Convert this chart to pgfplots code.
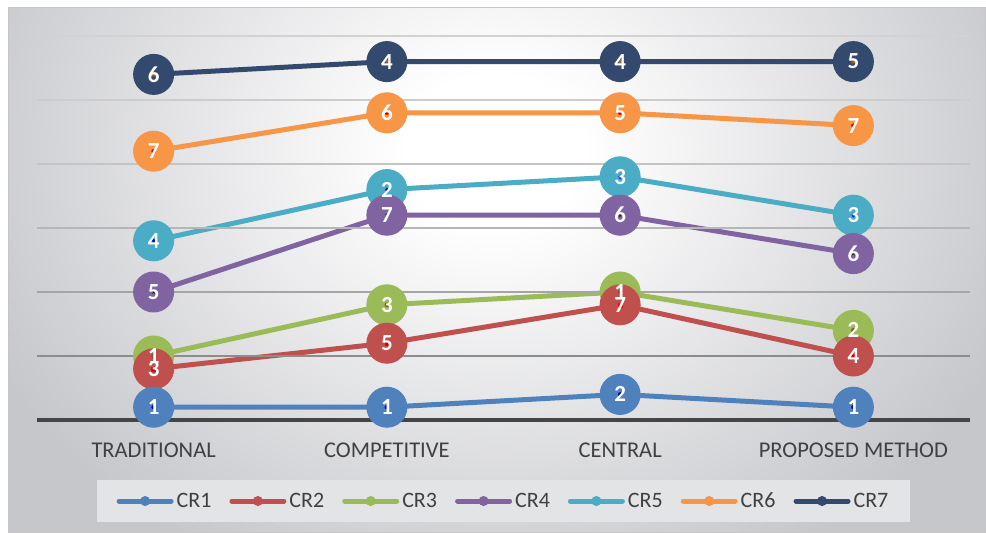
\documentclass[border=0pt]{standalone}
\usepackage{fontspec}
\setmainfont{Carlito}
\usepackage{pgfplots}
\pgfplotsset{compat=1.18}
\usepackage{pgfplotstable}

\definecolor{cA}{HTML}{4F81BD}
\definecolor{cB}{HTML}{C0504D}
\definecolor{cC}{HTML}{9BBB59}
\definecolor{cD}{HTML}{8064A2}
\definecolor{cE}{HTML}{4BACC6}
\definecolor{cF}{HTML}{F79646}
\definecolor{cG}{HTML}{34496E}
\definecolor{bgedge}{HTML}{C6C7CB}
\definecolor{labgray}{HTML}{404040}
\definecolor{axisgray}{HTML}{454545}
\definecolor{legfill}{HTML}{E3E4E6}
\definecolor{gA}{HTML}{8C8C8C}
\definecolor{gB}{HTML}{A5A5A5}
\definecolor{gC}{HTML}{B6B6B6}
\definecolor{gD}{HTML}{C4C4C4}
\definecolor{gE}{HTML}{CCCCCC}
\definecolor{gF}{HTML}{D2D2D2}

% tikz maps +-25bp of a shading onto the path's bounding box
\pgfdeclareradialshading{chartbg}{\pgfpoint{0bp}{0bp}}{%
  color(0bp)=(white); color(4bp)=(white); color(25bp)=(bgedge); color(50bp)=(bgedge)}

\pgfdeclarelayer{chartback}
\pgfsetlayers{chartback,main}

% rank of each criterion per method (plotted stacked, like the original)
\pgfplotstableread{
x cr1 cr2 cr3 cr4 cr5 cr6 cr7
0 1   3   1   5   4   7   6
1 1   5   3   7   2   6   4
2 2   7   1   6   3   5   4
3 1   4   2   6   3   7   5
}\ranks

\pgfplotsset{
  chartgeom/.style={
    width=933pt, height=384pt, scale only axis,
    xmin=-0.5, xmax=3.5, ymin=0, ymax=30,
    clip=false,
    stack plots=y,
  },
}

\begin{document}
\begin{tikzpicture}
\begin{axis}[
  name=main,
  at={(0,0)}, anchor=south west,
  chartgeom,
  axis x line*=bottom,
  axis y line=none,
  x axis line style={line width=4pt, draw=axisgray},
  xtick={0,1,2,3},
  xticklabels={TRADITIONAL, COMPETITIVE, CENTRAL, PROPOSED METHOD},
  major tick length=0pt,
  xticklabel style={font=\fontsize{22.5}{27}\selectfont, text=labgray, yshift=-19pt},
  every axis plot/.append style={line width=5pt, mark=*, mark size=20pt,
    mark options={solid, line width=1pt}},
  legend columns=7,
  legend image code/.code={%
    \draw[mark repeat=2, mark phase=2, #1, line width=5pt, line cap=round, mark size=4.5pt]
      plot coordinates {(0pt,0pt) (26pt,0pt) (52pt,0pt)};},
  legend style={at={(0.5,-0.211)}, anchor=center, fill=legfill, draw=none,
    font=\fontsize{22}{26}\selectfont, text=labgray,
    inner xsep=20pt, inner ysep=11pt,
    /tikz/every odd column/.append style={column sep=1pt},
    /tikz/every even column/.append style={column sep=16pt}},
]
\draw[line width=2.5pt, color=gA] (axis cs:-0.5,5) -- (axis cs:3.5,5);
\draw[line width=2pt, color=gB] (axis cs:-0.5,10) -- (axis cs:3.5,10);
\draw[line width=2pt, color=gC] (axis cs:-0.5,15) -- (axis cs:3.5,15);
\draw[line width=2pt, color=gD] (axis cs:-0.5,20) -- (axis cs:3.5,20);
\draw[line width=2pt, color=gE] (axis cs:-0.5,25) -- (axis cs:3.5,25);
\draw[line width=2pt, color=gF] (axis cs:-0.5,30) -- (axis cs:3.5,30);
\addplot[color=cA] table[x=x, y=cr1] {\ranks}; \addlegendentry{CR1}
\addplot[color=cB] table[x=x, y=cr2] {\ranks}; \addlegendentry{CR2}
\addplot[color=cC] table[x=x, y=cr3] {\ranks}; \addlegendentry{CR3}
\addplot[color=cD] table[x=x, y=cr4] {\ranks}; \addlegendentry{CR4}
\addplot[color=cE] table[x=x, y=cr5] {\ranks}; \addlegendentry{CR5}
\addplot[color=cF] table[x=x, y=cr6] {\ranks}; \addlegendentry{CR6}
\addplot[color=cG] table[x=x, y=cr7] {\ranks}; \addlegendentry{CR7}
\end{axis}

% data labels on top of every marker
\begin{axis}[
  at={(main.south west)}, anchor=south west,
  chartgeom,
  hide axis,
  point meta=explicit symbolic,
  nodes near coords={\pgfplotspointmeta},
  every node near coord/.append style={anchor=center, text=white,
    font=\bfseries\fontsize{23}{27}\selectfont},
  every axis plot/.append style={draw=none, mark=none},
]
\addplot table[x=x, y=cr1, meta=cr1] {\ranks};
\addplot table[x=x, y=cr2, meta=cr2] {\ranks};
\addplot table[x=x, y=cr3, meta=cr3] {\ranks};
\addplot table[x=x, y=cr4, meta=cr4] {\ranks};
\addplot table[x=x, y=cr5, meta=cr5] {\ranks};
\addplot table[x=x, y=cr6, meta=cr6] {\ranks};
\addplot table[x=x, y=cr7, meta=cr7] {\ranks};
\end{axis}

% chart area behind the axis, placed from the plot box corner
\begin{scope}[shift={(main.south west)}, x=1pt, y=1pt]
\begin{pgfonlayer}{chartback}
  \fill[white] (-37,-113) rectangle (949,420);
  \begin{scope}
    \clip (-28,-112) rectangle (948,412);
    \fill[bgedge] (-28,-112) rectangle (948,412);
    \shade[shading=chartbg] (458,270) ellipse (560 and 470);
  \end{scope}
  \draw[gray!45, line width=1pt] (-28,-112) rectangle (948,412);
\end{pgfonlayer}
\pgfresetboundingbox
\path[use as bounding box] (-37,-113) rectangle (949,420);
\end{scope}
\end{tikzpicture}
\end{document}
